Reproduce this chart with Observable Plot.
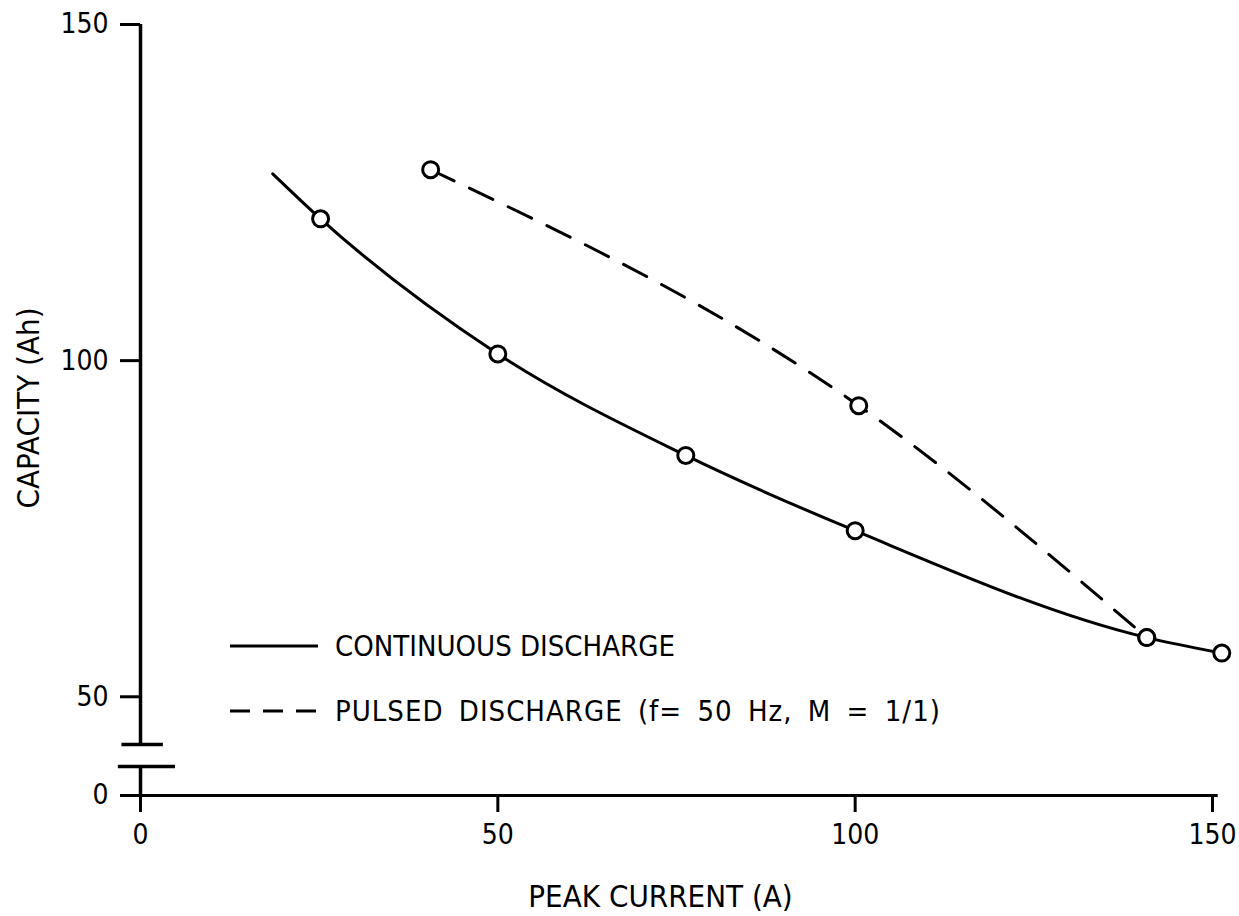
<!DOCTYPE html>
<html><head><meta charset="utf-8">
<script src="https://cdn.jsdelivr.net/npm/d3@7"></script>
<script src="https://cdn.jsdelivr.net/npm/@observablehq/plot@0.6"></script>
<style>
body{margin:0;background:#fff;}
#wrap{position:relative;width:1239px;height:916px;font-family:"DejaVu Sans Condensed","DejaVu Sans",sans-serif;font-stretch:condensed;color:#000;}
.row{position:absolute;left:230px;height:40px;display:flex;align-items:center;font-size:29px;white-space:nowrap;}
.row svg{margin-right:17px;}
</style></head><body><div id="wrap"></div>
<script>
// ---- data ----
const xTicks = [0, 50, 100, 150];
const yTicks = [0, 50, 100, 150];
const contCurrent  = [18.5, 25.2, 50.0, 76.3, 100.0, 140.8, 151.3];
const contCapacity = [127.8, 121.1, 101.0, 85.9, 74.7, 58.8, 56.5];
const contMarked   = [false, true, true, true, true, true, true];
const pulsedCurrent  = [40.6, 100.5, 140.8];
const pulsedCapacity = [128.4, 93.3, 58.8];
const yBreakLow = 10, yBreakHigh = 42.9;
const legendLabels = ["CONTINUOUS DISCHARGE", "PULSED DISCHARGE (f= 50 Hz, M = 1/1)"];
const xTitle = "PEAK CURRENT (A)";
const yTitle = "CAPACITY (Ah)";

const cont = contCurrent.map((x, i) => ({x, y: contCapacity[i], m: contMarked[i]}));
const pulsed = pulsedCurrent.map((x, i) => ({x, y: pulsedCapacity[i]}));
const font = '"DejaVu Sans Condensed","DejaVu Sans",sans-serif';

const chart = Plot.plot({
  width: 1239, height: 916,
  marginLeft: 140, marginRight: 27, marginTop: 24, marginBottom: 121,
  style: {fontFamily: font, fontStretch: "condensed", fontSize: "28px", background: "white", color: "black", overflow: "visible"},
  x: {domain: [0, 150]},
  y: {type: "linear", domain: [0, yBreakLow, yBreakHigh, 150], range: [795, 766, 744, 24]},
  marks: [
    Plot.ruleX([0], {y1: yBreakHigh, y2: 150, strokeWidth: 3.5}),
    Plot.ruleX([0], {y1: 0, y2: yBreakLow, strokeWidth: 3.5}),
    Plot.ruleY([0], {x1: 0, x2: 150.8, strokeWidth: 3}),
    Plot.ruleY([yBreakHigh], {x1: -2.6, x2: 3.2, strokeWidth: 3.5}),
    Plot.ruleY([yBreakLow], {x1: -3.1, x2: 4.9, strokeWidth: 3.5}),
    Plot.axisY({ticks: yTicks, tickSize: 20, tickPadding: 12, fontSize: 28, strokeWidth: 3, label: null, tickFormat: d => String(d)}),
    Plot.axisX({ticks: xTicks, tickSize: 17, tickPadding: 12, fontSize: 28, strokeWidth: 3, label: null, tickFormat: d => String(d)}),
    Plot.line(cont, {x: "x", y: "y", curve: "monotone-x", strokeWidth: 3}),
    Plot.line(pulsed, {x: "x", y: "y", curve: "monotone-x", strokeWidth: 3, strokeDasharray: "26,17"}),
    Plot.dot(cont.filter(d => d.m), {x: "x", y: "y", r: 8, fill: "white", stroke: "black", strokeWidth: 3}),
    Plot.dot(pulsed, {x: "x", y: "y", r: 8, fill: "white", stroke: "black", strokeWidth: 3}),
    Plot.text([xTitle], {frameAnchor: "bottom", lineAnchor: "middle", textAnchor: "middle", dy: 102, dx: -16, fontSize: 31}),
    Plot.text([yTitle], {frameAnchor: "left", rotate: -90, textAnchor: "middle", lineAnchor: "middle", dx: -111, dy: -2, fontSize: 31})
  ]
});
const wrap = document.getElementById("wrap");
wrap.appendChild(chart);

const rows = [
  {top: 626, dash: null, spacing: "0px", words: "0px"},
  {top: 691, dash: "20,13", spacing: "1px", words: "6px"}
];
legendLabels.forEach((lab, i) => {
  const r = document.createElement("div");
  r.className = "row";
  r.style.top = rows[i].top + "px";
  r.innerHTML = `<svg width="88" height="10"><line x1="0" x2="88" y1="5" y2="5" stroke="black" stroke-width="3" ${rows[i].dash ? `stroke-dasharray="${rows[i].dash}"` : ""}/></svg><span style="letter-spacing:${rows[i].spacing};word-spacing:${rows[i].words}">${lab.replace(/&/g,"&amp;")}</span>`;
  wrap.appendChild(r);
});
</script>
</body></html>
